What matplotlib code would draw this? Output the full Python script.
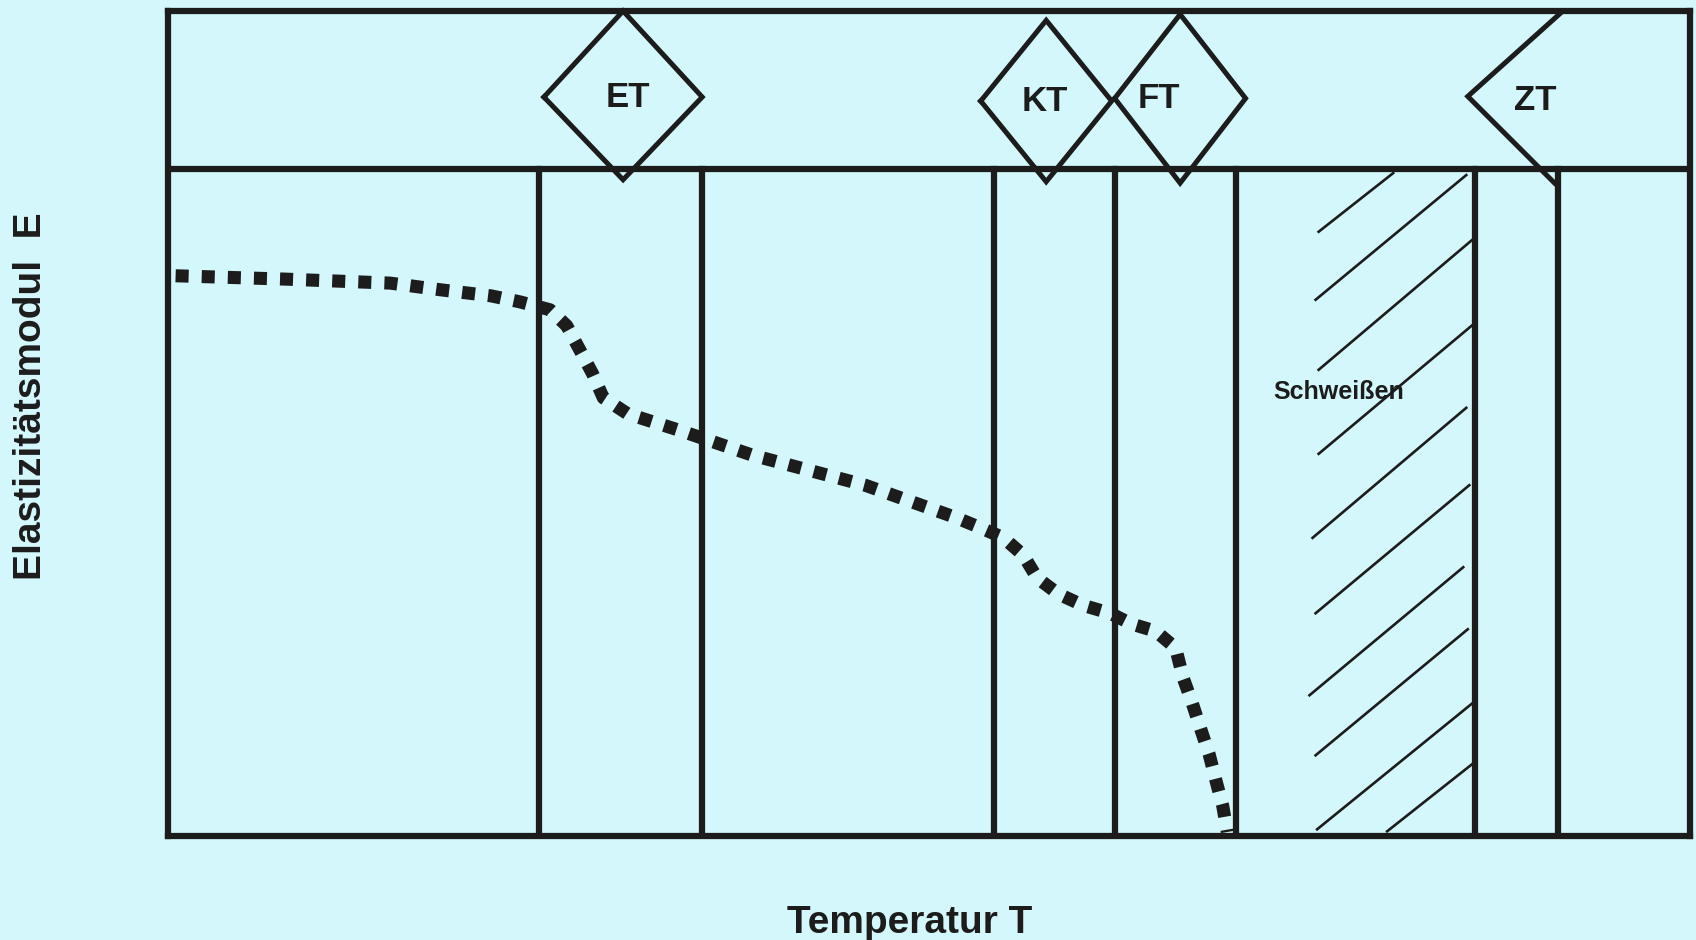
import numpy as np
import matplotlib.pyplot as plt

# schematic units: temperature 0..100 across the box, E 0..100 up to the marker band
temp_curve = [0.5, 7.7, 14.6, 17.9, 21.2, 23.1, 25.1, 26.2, 27.1, 27.9, 28.6, 30.2, 33.5,
              38.4, 45.8, 51.7, 53.3, 54.9, 56.2, 57.1, 58.5, 60.1, 61.9, 63.3, 64.9,
              66.2, 66.7, 67.3, 67.9, 68.4, 68.9, 69.3, 69.6]
e_curve = [84.0, 83.5, 82.9, 81.9, 81.0, 80.1, 78.9, 76.5, 72.7, 69.3, 65.7, 63.3, 60.9,
           57.1, 52.6, 47.8, 46.3, 44.7, 42.1, 38.7, 36.3, 34.6, 33.4, 31.8, 30.7,
           28.2, 23.7, 19.9, 15.7, 12.3, 7.9, 4.5, 0.6]

zone_bounds = [24.4, 35.1, 54.3, 62.2, 70.2, 85.9, 91.3]
band_top = 123.7

markers = ["ET", "KT", "FT"]
marker_t = [29.9, 57.7, 66.5]
marker_e = [110.8, 110.2, 110.6]
marker_halfw = [5.2, 4.3, 4.3]
marker_top = [123.7, 122.3, 123.2]
marker_bottom = [98.4, 98.1, 97.9]
label_t = [30.2, 57.6, 65.1]

zt_t = [91.5, 85.4, 91.1]
zt_e = [123.4, 110.9, 97.9]

hatch_t0 = [75.6, 75.4, 75.6, 75.6, 75.2, 75.4, 75.0, 75.4, 75.5, 80.1]
hatch_e0 = [90.6, 80.4, 69.9, 57.3, 44.7, 33.4, 21.1, 12.1, 1.0, 0.7]
hatch_t1 = [80.5, 85.3, 85.7, 85.7, 85.3, 85.5, 85.1, 85.4, 85.7, 85.7]
hatch_e1 = [99.4, 99.1, 89.4, 76.6, 64.2, 52.6, 40.3, 31.0, 19.9, 10.8]

bg = "#d3f7fb"
ink = "#1c1c1c"
font = ["Liberation Sans", "DejaVu Sans"]

fig = plt.figure(figsize=(16.96, 9.40), dpi=100)
fig.patch.set_facecolor(bg)
ax = fig.add_axes([168 / 1696, 104 / 940, 1522 / 1696, 825 / 940])
ax.set_facecolor(bg)
ax.set_xlim(0, 100)
ax.set_ylim(0, band_top)
ax.set_xticks([])
ax.set_yticks([])
for sp in ax.spines.values():
    sp.set_linewidth(4.5)
    sp.set_color(ink)

# band separator and zone boundaries
ax.plot([0, 100], [100, 100], color=ink, lw=4.5)
for t in zone_bounds:
    ax.plot([t, t], [0, 100], color=ink, lw=4.5)

# welding zone hatching
for i in range(len(hatch_t0)):
    ax.plot([hatch_t0[i], hatch_t1[i]], [hatch_e0[i], hatch_e1[i]], color=ink, lw=1.9)
ax.text(76.9, 66.6, "Schweißen", ha="center", va="center", fontsize=18,
        fontweight="bold", family=font, color=ink)

# transition markers
for i, name in enumerate(markers):
    c, e, hw = marker_t[i], marker_e[i], marker_halfw[i]
    xs = [c - hw, c, c + hw, c, c - hw]
    ys = [e, marker_top[i], e, marker_bottom[i], e]
    ax.plot(xs, ys, color=ink, lw=3.6, clip_on=False, solid_joinstyle="miter")
    ax.text(label_t[i], e, name, ha="center", va="center", fontsize=25,
            fontweight="bold", family=font, color=ink)
ax.plot(zt_t, zt_e, color=ink, lw=3.6, clip_on=False, solid_joinstyle="miter")
ax.text(89.8, 110.3, "ZT", ha="center", va="center", fontsize=25,
        fontweight="bold", family=font, color=ink)

# elastic modulus curve
ax.plot(temp_curve, e_curve, color=ink, lw=9.4, linestyle=(0, (1, 1)),
        dash_capstyle="butt")

fig.text(0.5366, 0.0074, "Temperatur T", ha="center", va="baseline", fontsize=28,
         fontweight="bold", family=font, color=ink)
fig.text(0.018, 0.578, "Elastizitätsmodul  E", ha="center", va="center", rotation=90,
         fontsize=28, fontweight="bold", family=font, color=ink)

fig.savefig("out.png", dpi=100, facecolor=bg)
